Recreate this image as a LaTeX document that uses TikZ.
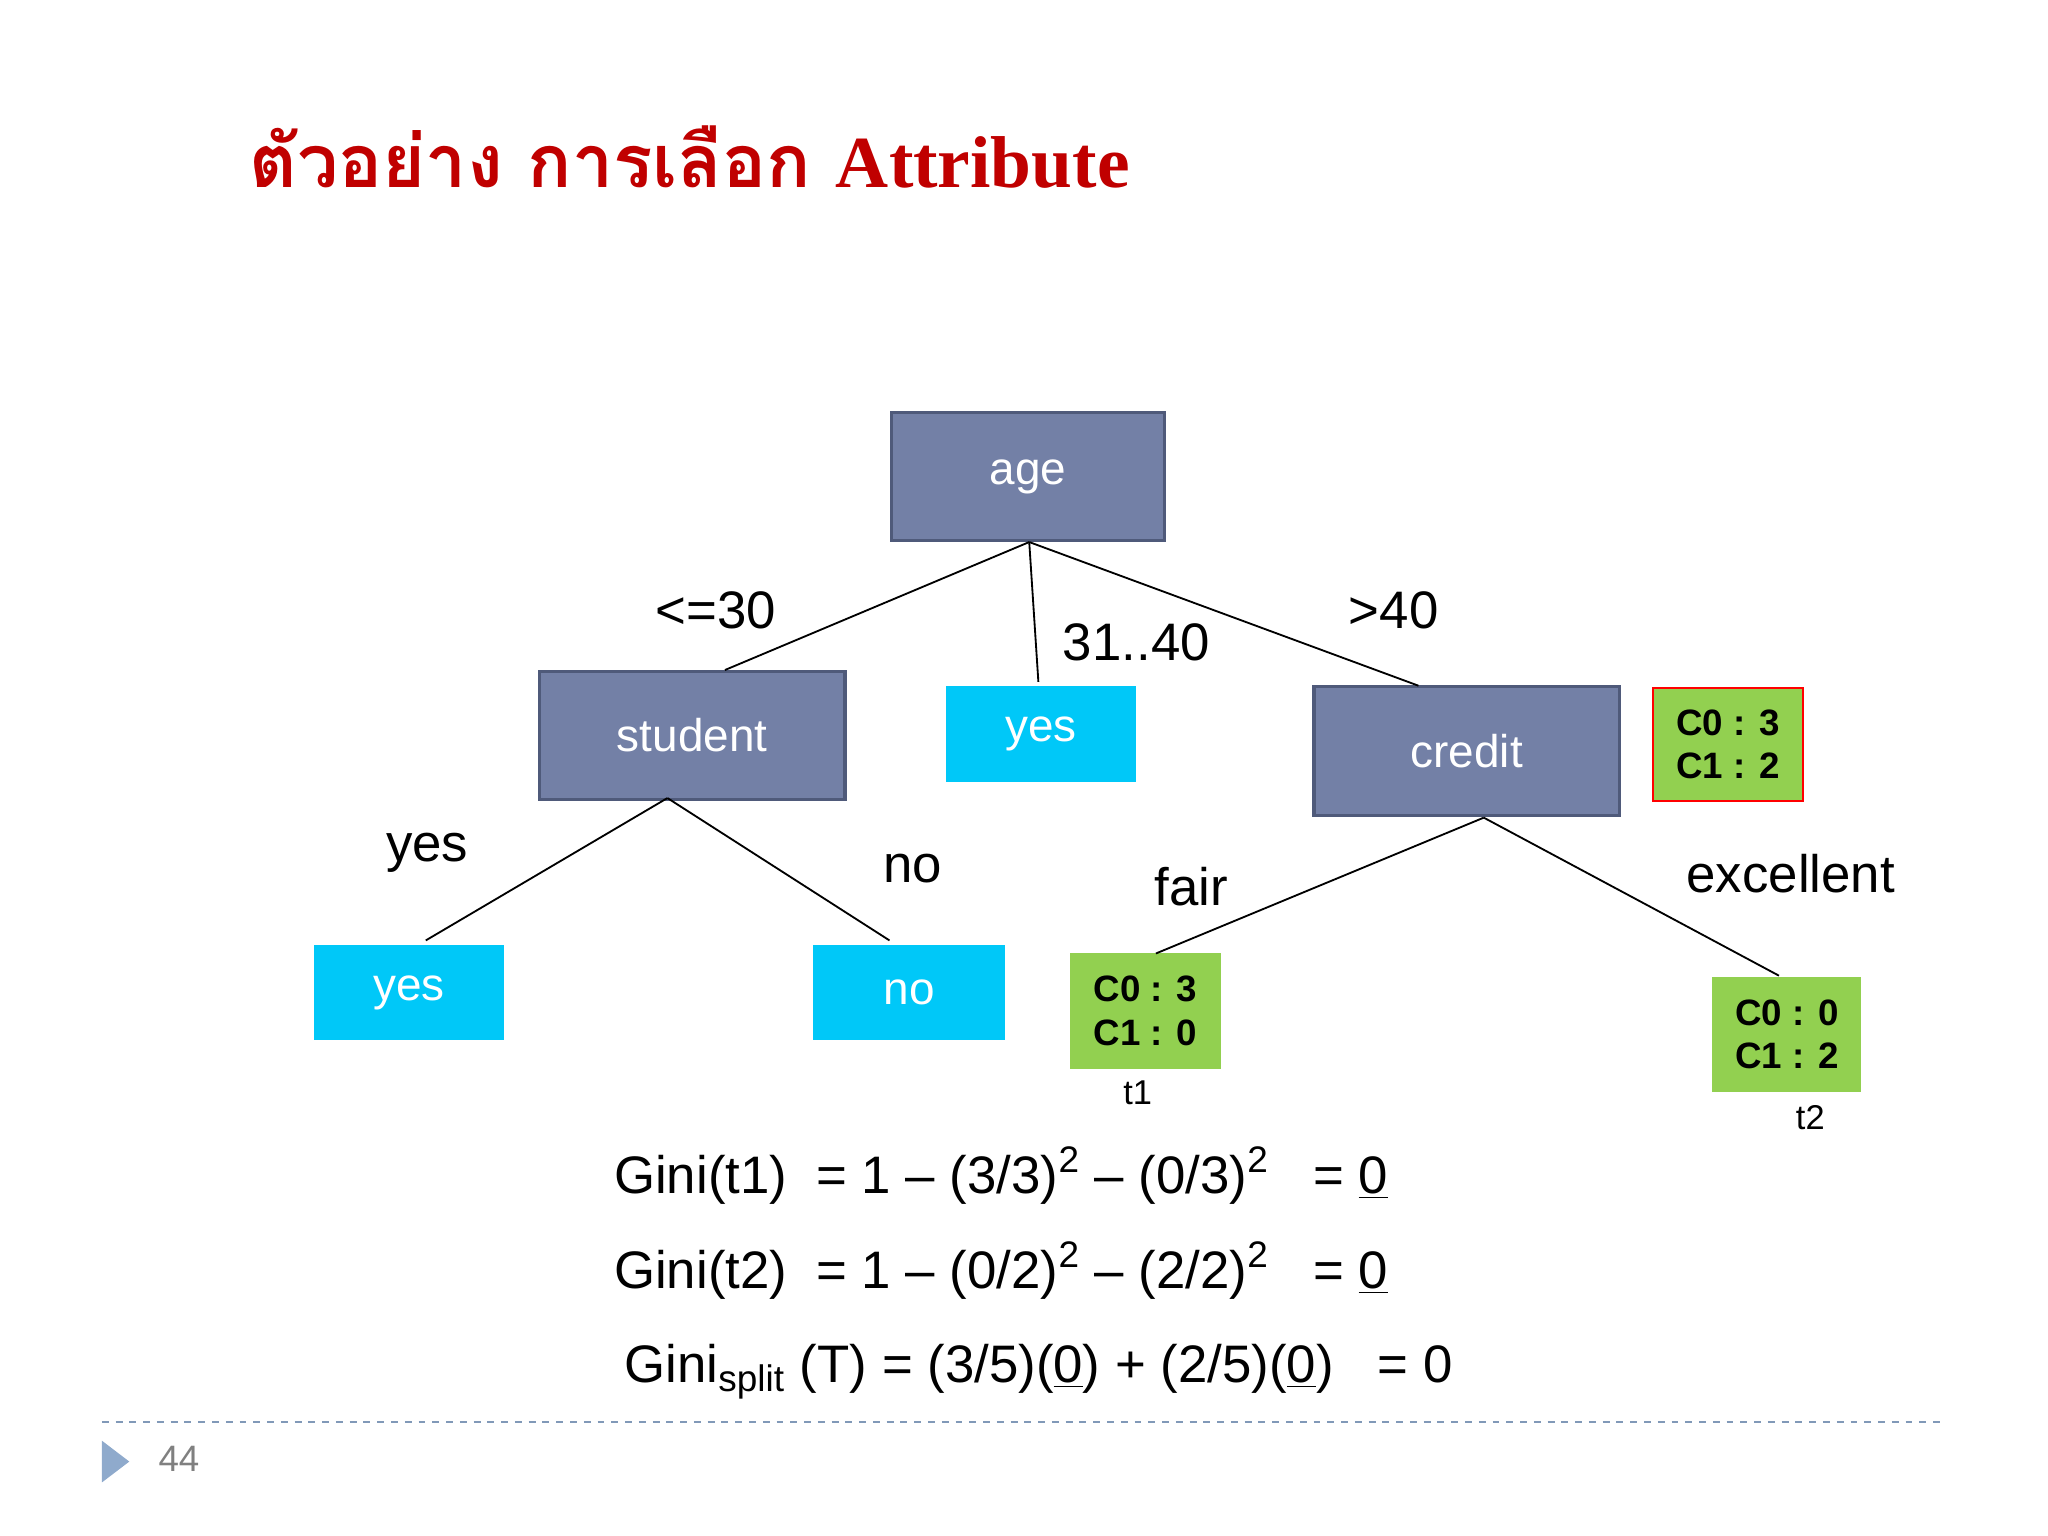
\documentclass[tikz,border=0pt]{standalone}
\usepackage{fontspec}
\setmainfont{Liberation Sans}
\newfontfamily\thaifont[Script=Thai]{Loma}
\newfontfamily\serifb{Liberation Serif}
\usetikzlibrary{shapes.geometric}
\definecolor{slate}{HTML}{7380A6}
\definecolor{slateb}{HTML}{4F5A7A}
\definecolor{cyanl}{HTML}{00C8F8}
\definecolor{grn}{HTML}{92D050}
\definecolor{ttl}{HTML}{C00000}
\definecolor{tri}{HTML}{8FAACC}
\tikzset{
 px/.style={x=0.02cm,y=-0.02cm},
 inner/.style={draw=slateb,line width=1.5pt,fill=slate,text=white,font=\fontsize{20}{24}\selectfont,inner sep=0pt},
 leaf/.style={fill=cyanl,text=white,font=\fontsize{20}{24}\selectfont,inner sep=0pt},
 cnt/.style={fill=grn,font=\fontsize{16}{19}\selectfont\bfseries,inner sep=0pt,align=center},
 lbl/.style={font=\fontsize{23}{27}\selectfont},
 eq/.style={font=\fontsize{23}{27}\selectfont,anchor=west},
 edge/.style={line width=0.8pt}
}
\begin{document}
\begin{tikzpicture}[px]
\useasboundingbox (0,0) rectangle (1568,1176);
\node[anchor=west,text=ttl,font=\fontsize{32}{36}\selectfont\bfseries] (title) at (185,120) {\thaifont ตัวอย่าง การเลือก \serifb Attribute};
\node[inner,minimum width=209*0.02cm,minimum height=98*0.02cm] (age) at (787,365) {age};
\node[inner,minimum width=234*0.02cm,minimum height=98*0.02cm] (student) at (530,563) {student};
\node[leaf,minimum width=146*0.02cm,minimum height=74*0.02cm] (y1) at (797,562) {yes};
\node[inner,minimum width=234*0.02cm,minimum height=99*0.02cm] (credit) at (1123,575) {credit};
\node[cnt,draw=red,line width=1pt,minimum width=115*0.02cm,minimum height=87*0.02cm] (root) at (1323,570) {C0 : 3\\C1 : 2};
\node[leaf,minimum width=145*0.02cm,minimum height=73*0.02cm] (y2) at (313,760) {yes};
\node[leaf,minimum width=147*0.02cm,minimum height=73*0.02cm] (n2) at (696,760) {no};
\node[cnt,minimum width=115*0.02cm,minimum height=89*0.02cm] (t1) at (877,774) {C0 : 3\\C1 : 0};
\node[cnt,minimum width=114*0.02cm,minimum height=88*0.02cm] (t2) at (1368,792) {C0 : 0\\C1 : 2};
\coordinate (a0) at (788,415);
\coordinate (s0) at (511,611);
\coordinate (c0) at (1136,626);
\draw[edge] (a0) -- (555,513) coordinate (sa);
\draw[edge] (a0) -- (795,522) coordinate (ya);
\draw[edge] (a0) -- (1086,525) coordinate (ca);
\draw[edge] (s0) -- (326,720) coordinate (y2a);
\draw[edge] (s0) -- (681,720) coordinate (n2a);
\draw[edge] (c0) -- (885,730) coordinate (t1a);
\draw[edge] (c0) -- (1362,747) coordinate (t2a);
\node[lbl] (l1) at (548,467) {<=30};
\node[lbl] (l2) at (870,492) {31..40};
\node[lbl] (l3) at (1067,467) {>40};
\node[lbl] (l4) at (327,653) {yes};
\node[lbl] (l5) at (699,665) {no};
\node[lbl] (l6) at (912,679) {fair};
\node[lbl] (l7) at (1371,669) {excellent};
\node[font=\fontsize{15}{18}\selectfont] (tl1) at (871,837) {t1};
\node[font=\fontsize{15}{18}\selectfont] (tl2) at (1386,856) {t2};
\node[eq] (e1) at (464,900) {Gini(t1)\ \ = 1 – (3/3)\textsuperscript{2} – (0/3)\textsuperscript{2}\ \ \ = \underline{0}};
\node[eq] (e2) at (464,973) {Gini(t2)\ \ = 1 – (0/2)\textsuperscript{2} – (2/2)\textsuperscript{2}\ \ \ = \underline{0}};
\node[eq] (e3) at (472,1050) {Gini\textsubscript{split} (T) = (3/5)(\underline{0}) + (2/5)(\underline{0})\ \ \ = 0};
\draw[tri!90!black,dashed,line width=0.8pt] (78,1089) -- (1490,1089);
\fill[tri] (78,1103) -- (99,1119) -- (78,1135) -- cycle;
\node[text=gray,font=\fontsize{16}{19}\selectfont] (pg) at (137,1117) {44};
\end{tikzpicture}
\end{document}
